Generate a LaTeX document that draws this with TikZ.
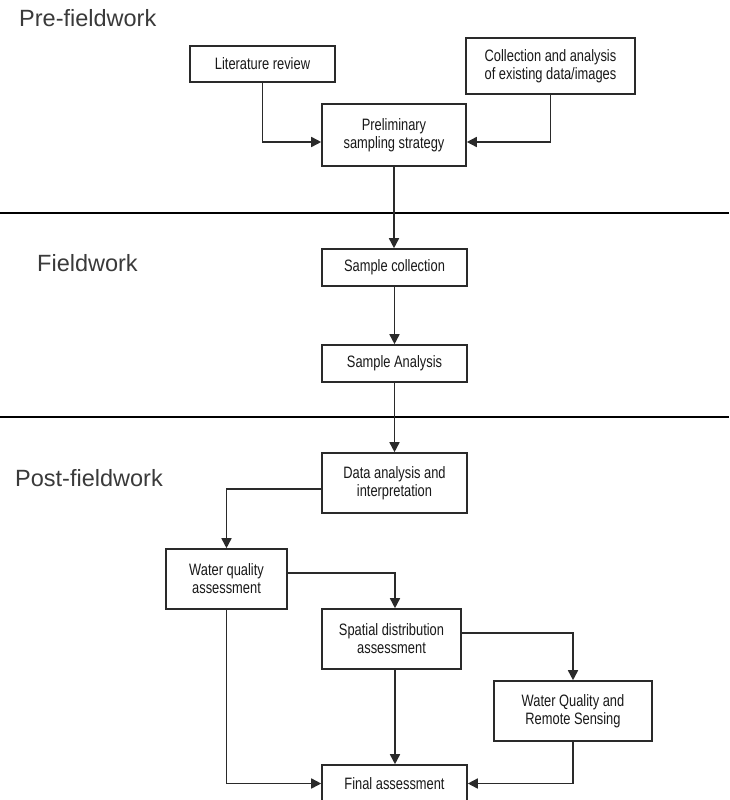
\documentclass[tikz,border=0pt]{standalone}
\usepackage{fontspec}
\setmainfont{Liberation Sans}
\newfontfamily\boxfont[FakeStretch=0.78]{Liberation Sans}
\usetikzlibrary{arrows.meta}
\definecolor{boxline}{HTML}{2A2A2A}
\definecolor{labelgray}{HTML}{3A3A3A}
\tikzset{
  stagebox/.style={draw=boxline, line width=1.6pt, fill=white, rectangle, inner sep=0pt,
    align=center, text=black!90, font=\boxfont\fontsize{16.5}{18}\selectfont},
  flow/.style={draw=boxline, line width=1.6pt, -{Triangle[length=10pt,width=10pt]}},
  separator/.style={draw=black, line width=2.6pt},
  phaselabel/.style={anchor=west, inner sep=0pt, text=labelgray, font=\fontsize{23.5}{28}\selectfont}
}
\begin{document}
\begin{tikzpicture}[x=1pt,y=-1pt]
\useasboundingbox (0,0) rectangle (729,800);
\fill[white] (0,0) rectangle (729,800);

% phase labels
\node[phaselabel] (lpre) at (19,18) {Pre-fieldwork};
\node[phaselabel] (lfield) at (37,263) {Fieldwork};
\node[phaselabel] (lpost) at (15,478) {Post-fieldwork};

% separators
\coordinate (s1a) at (0,213); \coordinate (s1b) at (729,213);
\coordinate (s2a) at (0,417); \coordinate (s2b) at (729,417);
\draw[separator] (s1a) -- (s1b);
\draw[separator] (s2a) -- (s2b);

% boxes
\node[stagebox, minimum width=145pt, minimum height=36pt] (lit) at (262.5,64) {Literature review};
\node[stagebox, minimum width=169pt, minimum height=56pt] (coll) at (550.5,66) {Collection and analysis\\of existing data/images};
\node[stagebox, minimum width=144pt, minimum height=62pt] (prelim) at (394,135) {Preliminary\\sampling strategy};
\node[stagebox, minimum width=145pt, minimum height=37pt] (sc) at (394.5,267.5) {Sample collection};
\node[stagebox, minimum width=145pt, minimum height=37pt] (sa) at (394.5,363.5) {Sample Analysis};
\node[stagebox, minimum width=145pt, minimum height=60pt] (da) at (394.5,483) {Data analysis and\\interpretation};
\node[stagebox, minimum width=121pt, minimum height=60pt] (wq) at (226.5,579) {Water quality\\assessment};
\node[stagebox, minimum width=139pt, minimum height=60pt] (sp) at (391.5,639) {Spatial distribution\\assessment};
\node[stagebox, minimum width=158pt, minimum height=60pt] (wqrs) at (573,711) {Water Quality and\\Remote Sensing};
\node[stagebox, minimum width=145pt, minimum height=37pt] (fin) at (394.5,783.5) {Final assessment};

% connectors
\draw[flow] (lit.south) |- ([yshift=-7pt]prelim.west);
\draw[flow] (coll.south) |- ([yshift=-7pt]prelim.east);
\draw[flow] (prelim.south) -- (prelim.south |- sc.north);
\draw[flow] (sc.south) -- (sc.south |- sa.north);
\draw[flow] (sa.south) -- (sa.south |- da.north);
\draw[flow] ([yshift=-6pt]da.west) -| (wq.north);
\draw[flow] ([yshift=6pt]wq.east) -| ([xshift=3.5pt]sp.north);
\draw[flow] ([yshift=6pt]sp.east) -| (wqrs.north);
\draw[flow] (wq.south) |- (fin.west);
\draw[flow] ([xshift=3.5pt]sp.south) -- ([xshift=3.5pt]sp.south |- fin.north);
\draw[flow] (wqrs.south) |- (fin.east);
\end{tikzpicture}
\end{document}
